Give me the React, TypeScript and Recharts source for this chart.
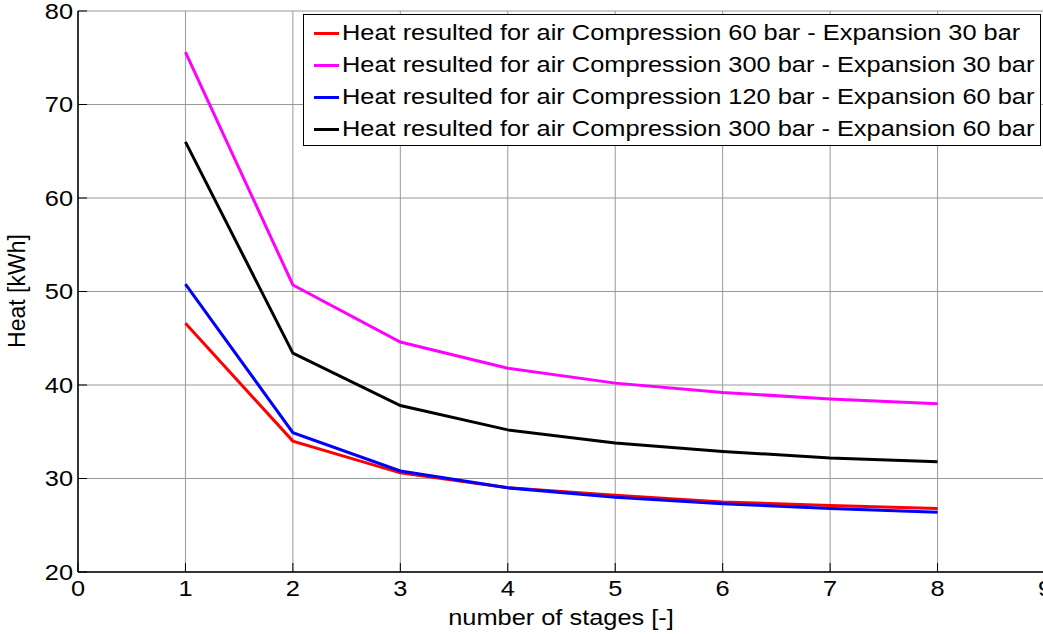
import React from "react";
import {
  LineChart,
  Line,
  XAxis,
  YAxis,
  CartesianGrid,
  Legend,
  Label,
} from "recharts";

/* data */
const stages = [1, 2, 3, 4, 5, 6, 7, 8];
const heat60_30 = [46.6, 34.0, 30.6, 29.0, 28.2, 27.5, 27.1, 26.8];
const heat300_30 = [75.6, 50.7, 44.6, 41.8, 40.2, 39.2, 38.5, 38.0];
const heat120_60 = [50.8, 34.9, 30.8, 29.0, 28.0, 27.3, 26.8, 26.4];
const heat300_60 = [66.0, 43.4, 37.8, 35.2, 33.8, 32.9, 32.2, 31.8];

const xTicks = [0, 1, 2, 3, 4, 5, 6, 7, 8, 9];
const yTicks = [20, 30, 40, 50, 60, 70, 80];

const SERIES = [
  { key: "c60e30", name: "Heat resulted for air Compression 60 bar - Expansion 30 bar", color: "#ff0000" },
  { key: "c300e30", name: "Heat resulted for air Compression 300 bar - Expansion 30 bar", color: "#ff00ff" },
  { key: "c120e60", name: "Heat resulted for air Compression 120 bar - Expansion 60 bar", color: "#0000ff" },
  { key: "c300e60", name: "Heat resulted for air Compression 300 bar - Expansion 60 bar", color: "#000000" },
];

const data = stages.map((s, i) => ({
  stage: s,
  c60e30: heat60_30[i],
  c300e30: heat300_30[i],
  c120e60: heat120_60[i],
  c300e60: heat300_60[i],
}));

const FONT = '"Liberation Sans", Arial, Helvetica, sans-serif';
const FS = 21.5;
const STRETCH = 1.18; // the original figure is stretched horizontally

function YTick(props: any) {
  const { x, y, payload } = props;
  return (
    <g transform={`translate(${x},${y}) scale(${STRETCH},1)`}>
      <text x={0} y={0} dy="0.36em" textAnchor="end" fontFamily={FONT} fontSize={FS} fill="#000">
        {payload.value}
      </text>
    </g>
  );
}

function XTick(props: any) {
  const { x, y, payload } = props;
  return (
    <g transform={`translate(${x},${y}) scale(${STRETCH},1)`}>
      <text x={0} y={0} dy="0.71em" textAnchor="middle" fontFamily={FONT} fontSize={FS} fill="#000">
        {payload.value}
      </text>
    </g>
  );
}

function LegendBox() {
  return (
    <div
      style={{
        border: "1px solid #000",
        background: "#fff",
        padding: "2px 0",
        boxSizing: "border-box",
        width: 738,
        height: 132,
        fontFamily: FONT,
      }}
    >
      {SERIES.map((s) => (
        <div key={s.key} style={{ height: 32, display: "flex", alignItems: "center" }}>
          <span
            style={{
              display: "inline-block",
              width: 25,
              height: 3,
              background: s.color,
              marginLeft: 10,
              marginRight: 3,
            }}
          />
          <span
            style={{
              display: "inline-block",
              fontSize: FS,
              color: "#000",
              whiteSpace: "nowrap",
              transform: `scaleX(${STRETCH})`,
              transformOrigin: "left center",
              lineHeight: "32px",
            }}
          >
            {s.name}
          </span>
        </div>
      ))}
    </div>
  );
}

const axisLine = { stroke: "#000", strokeWidth: 1.5 };
const tickLine = { stroke: "#000", strokeWidth: 1 };

export default function App() {
  return (
    <div style={{ width: 1043, height: 634, overflow: "hidden", position: "relative", background: "#fff" }}>
      <style>{"body{margin:0;}"}</style>
      <LineChart
        width={1047}
        height={634}
        data={data}
        margin={{ top: 11, right: 2, bottom: 0, left: 0 }}
      >
        <CartesianGrid
          stroke="#999"
          horizontalValues={yTicks}
          verticalValues={xTicks}
        />
        <XAxis
          dataKey="stage"
          type="number"
          domain={[0, 9]}
          ticks={xTicks}
          height={62}
          tickSize={-9}
          tickMargin={18}
          axisLine={axisLine}
          tickLine={tickLine}
          tick={<XTick />}
          interval={0}
        >
          <Label
            content={() => (
              <g transform={`translate(561,625) scale(${STRETCH},1)`}>
                <text x={0} y={0} textAnchor="middle" fontFamily={FONT} fontSize={FS} fill="#000">
                  number of stages [-]
                </text>
              </g>
            )}
          />
        </XAxis>
        <XAxis
          xAxisId="top"
          orientation="top"
          type="number"
          domain={[0, 9]}
          ticks={xTicks}
          height={0}
          tick={false}
          tickSize={-9}
          tickLine={tickLine}
          axisLine={axisLine}
          interval={0}
        />
        <YAxis
          type="number"
          domain={[20, 80]}
          ticks={yTicks}
          width={78}
          tickSize={-9}
          tickMargin={14}
          axisLine={axisLine}
          tickLine={tickLine}
          tick={<YTick />}
          interval={0}
        >
          <Label
            content={() => (
              <text
                x={0}
                y={0}
                transform="translate(25,291) rotate(-90)"
                textAnchor="middle"
                fontFamily={FONT}
                fontSize={23}
                fill="#000"
              >
                Heat [kWh]
              </text>
            )}
          />
        </YAxis>
        <Legend
          layout="vertical"
          align="center"
          verticalAlign="middle"
          wrapperStyle={{ left: 303, top: 14, width: 738, height: 132 }}
          content={() => <LegendBox />}
        />
        {SERIES.map((s) => (
          <Line
            key={s.key}
            type="linear"
            dataKey={s.key}
            name={s.name}
            stroke={s.color}
            strokeWidth={3}
            dot={false}
            activeDot={false}
            isAnimationActive={false}
          />
        ))}
      </LineChart>
    </div>
  );
}
